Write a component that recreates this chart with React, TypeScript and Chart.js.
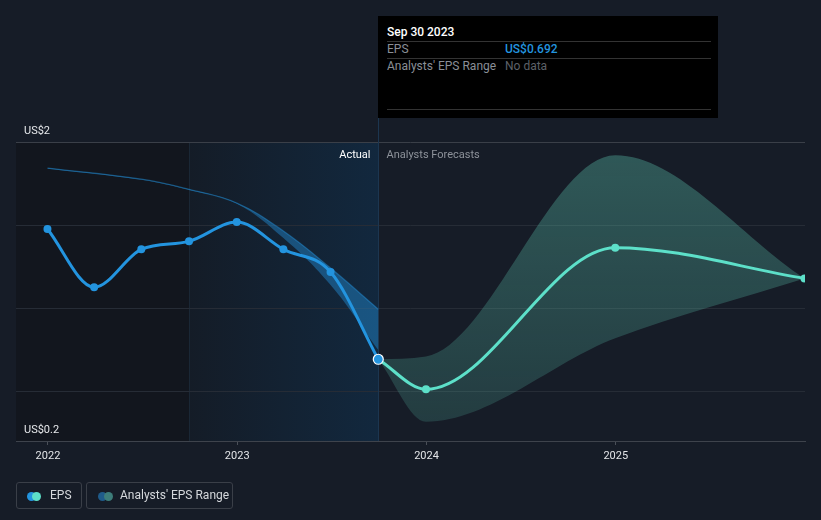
import React, { useEffect, useRef } from 'react';
import { Chart, registerables } from 'chart.js';
Chart.register(...registerables);

const FONT = 'Roboto, "Open Sans", "DejaVu Sans", sans-serif';

// ---- data ----
const actualDates = ['2021-12-31', '2022-03-31', '2022-06-30', '2022-09-30', '2022-12-31', '2023-03-31', '2023-06-30', '2023-09-30'];
const actualEps = [1.476, 1.125, 1.354, 1.402, 1.518, 1.354, 1.217, 0.692];

const pastRangeDates = ['2021-12-31', '2022-06-30', '2022-09-30', '2022-12-31', '2023-03-31', '2023-06-30', '2023-09-30'];
const pastRangeHigh = [1.843, 1.776, 1.715, 1.633, 1.464, 1.241, 0.993];
const pastRangeLow = [1.839, 1.772, 1.711, 1.629, 1.422, 1.139, 0.748];

const forecastDates = ['2023-09-30', '2023-12-31', '2024-12-31', '2025-12-31'];
const forecastEps = [0.692, 0.511, 1.364, 1.179];
const forecastHigh = [0.692, 0.708, 1.92, 1.179];
const forecastLow = [0.692, 0.316, 0.818, 1.179];

const xTickYears = [2022, 2023, 2024, 2025];
const yTickValues = [0.2, 0.5, 1, 1.5, 2];
const yTickLabels: Record<string, string> = { '2': 'US$2', '0.2': 'US$0.2' };

const shadeStart = '2022-09-30';
const shadeEnd = '2023-09-30';

const X_MIN = 2021.831;
const X_MAX = 2026.0;
const Y_MIN = 0.2;
const Y_MAX = 2;

function toYear(date: string): number {
  const d = Date.parse(date + 'T00:00:00Z');
  const y = new Date(d).getUTCFullYear();
  const s = Date.UTC(y, 0, 1);
  const e = Date.UTC(y + 1, 0, 1);
  return y + (d - s) / (e - s);
}

function pts(dates: string[], vals: number[]) {
  return dates.map((d, i) => ({ x: toYear(d), y: vals[i] }));
}

const TOOLTIP_BOTTOM = 118;

const bgPlugin = {
  id: 'bgPlugin',
  beforeDraw(chart: any) {
    const { ctx, chartArea: a, scales } = chart;
    const x = scales.x;
    const xs = x.getPixelForValue(toYear(shadeStart));
    const xe = x.getPixelForValue(toYear(shadeEnd));
    ctx.save();
    ctx.fillStyle = '#12161e';
    ctx.fillRect(a.left, a.top, xs - a.left, a.bottom - a.top);
    const g = ctx.createLinearGradient(xs, 0, xe, 0);
    g.addColorStop(0, '#141c27');
    g.addColorStop(1, '#12283e');
    ctx.fillStyle = g;
    ctx.fillRect(xs, a.top, xe - xs, a.bottom - a.top);
    ctx.fillStyle = '#1a2735';
    ctx.fillRect(Math.round(xs), a.top, 1, a.bottom - a.top);
    ctx.restore();
  },
  beforeDatasetsDraw(chart: any) {
    const { ctx, chartArea: a, scales } = chart;
    const xe = Math.round(scales.x.getPixelForValue(toYear(shadeEnd))) + 0.5;
    ctx.save();
    ctx.strokeStyle = '#1c3650';
    ctx.lineWidth = 1;
    ctx.beginPath();
    ctx.moveTo(xe, TOOLTIP_BOTTOM);
    ctx.lineTo(xe, a.bottom);
    ctx.stroke();
    ctx.font = `11px ${FONT}`;
    ctx.textBaseline = 'middle';
    ctx.textAlign = 'right';
    ctx.fillStyle = '#ffffff';
    ctx.fillText('Actual', xe - 8, a.top + 13);
    ctx.textAlign = 'left';
    ctx.fillStyle = '#8d929a';
    ctx.fillText('Analysts Forecasts', xe + 8, a.top + 13);
    ctx.restore();
  },
};

function ChartView() {
  const ref = useRef<HTMLCanvasElement | null>(null);
  useEffect(() => {
    if (!ref.current) return;
    const bandGradient = (ctx: any) => {
      const chart = ctx.chart;
      const a = chart.chartArea;
      if (!a) return 'rgba(90,190,170,0.3)';
      const g = chart.ctx.createLinearGradient(0, a.top, 0, a.bottom);
      g.addColorStop(0, 'rgba(90,190,170,0.38)');
      g.addColorStop(1, 'rgba(90,190,170,0.19)');
      return g;
    };
    const n = actualEps.length;
    const chart = new Chart(ref.current, {
      type: 'line',
      data: {
        datasets: [
          {
            label: 'EPS',
            data: pts(actualDates, actualEps),
            borderColor: '#2394df',
            backgroundColor: '#2394df',
            borderWidth: 3,
            cubicInterpolationMode: 'monotone',
            pointRadius: actualEps.map((_, i) => (i === n - 1 ? 5 : 4)),
            pointBackgroundColor: '#2394df',
            pointBorderColor: actualEps.map((_, i) => (i === n - 1 ? '#ffffff' : '#2394df')),
            pointBorderWidth: actualEps.map((_, i) => (i === n - 1 ? 1.2 : 0)),
            fill: false,
          },
          {
            label: 'Forecast',
            data: pts(forecastDates, forecastEps),
            borderColor: '#5de0c9',
            backgroundColor: '#5de0c9',
            borderWidth: 3,
            cubicInterpolationMode: 'monotone',
            pointRadius: forecastEps.map((_, i) => (i === 0 ? 0 : 4)),
            pointBorderWidth: 0,
            fill: false,
          },
          {
            label: 'ForecastHigh',
            data: pts(forecastDates, forecastHigh),
            borderWidth: 0,
            borderColor: 'rgba(0,0,0,0)',
            backgroundColor: bandGradient,
            cubicInterpolationMode: 'monotone',
            pointRadius: 0,
            fill: '+1',
          },
          {
            label: 'ForecastLow',
            data: pts(forecastDates, forecastLow),
            borderWidth: 0,
            borderColor: 'rgba(0,0,0,0)',
            cubicInterpolationMode: 'monotone',
            pointRadius: 0,
            fill: false,
          },
          {
            label: 'PastHigh',
            data: pts(pastRangeDates, pastRangeHigh),
            borderWidth: 1.2,
            borderColor: 'rgba(35,148,223,0.45)',
            backgroundColor: 'rgba(35,148,223,0.42)',
            tension: 0.4,
            pointRadius: 0,
            fill: '+1',
          },
          {
            label: 'PastLow',
            data: pts(pastRangeDates, pastRangeLow),
            borderWidth: 0,
            borderColor: 'rgba(0,0,0,0)',
            tension: 0.4,
            pointRadius: 0,
            fill: false,
          },
        ],
      },
      options: {
        animation: false,
        responsive: false,
        maintainAspectRatio: false,
        events: [],
        layout: { padding: { top: 142, left: 16, right: 16, bottom: 49 } },
        plugins: { legend: { display: false }, tooltip: { enabled: false } },
        scales: {
          x: {
            type: 'linear',
            min: X_MIN,
            max: X_MAX,
            afterFit: (s: any) => { s.height = 30; },
            afterBuildTicks: (s: any) => { s.ticks = xTickYears.map((v) => ({ value: v })); },
            ticks: {
              color: '#e3e5e8',
              font: { family: FONT, size: 11 },
              padding: 5,
              maxRotation: 0,
              callback: (v: any) => String(v),
            },
            grid: { drawOnChartArea: false, drawTicks: true, tickLength: 4, color: '#4a4f58' },
            border: { display: true, color: '#3e434c', width: 1 },
          },
          y: {
            type: 'linear',
            min: Y_MIN,
            max: Y_MAX,
            afterFit: (s: any) => { s.width = 0; },
            afterBuildTicks: (s: any) => { s.ticks = yTickValues.map((v) => ({ value: v })); },
            ticks: {
              mirror: true,
              padding: 8,
              labelOffset: -11,
              color: '#e6e8eb',
              font: { family: FONT, size: 11 },
              callback: (v: any) => yTickLabels[String(v)] || '',
            },
            grid: {
              drawTicks: false,
              color: (c: any) => {
                const v = c.tick && c.tick.value;
                if (v === 2) return '#3a3f48';
                if (v === 0.2) return 'rgba(0,0,0,0)';
                return '#262c36';
              },
            },
            border: { display: false },
          },
        },
      },
      plugins: [bgPlugin],
    } as any);
    return () => chart.destroy();
  }, []);
  return <canvas ref={ref} width={821} height={520} style={{ position: 'absolute', left: 0, top: 0, width: 821, height: 520 }} />;
}

function Dot({ left, color }: { left: number; color: string }) {
  return (
    <div style={{ position: 'absolute', left, top: 9, width: 9, height: 9, borderRadius: '50%', background: color }} />
  );
}

export default function App() {
  const rowText: React.CSSProperties = { position: 'absolute', fontSize: 12, lineHeight: '14px', whiteSpace: 'nowrap' };
  const sep = (top: number): React.CSSProperties => ({ position: 'absolute', left: 9, top, width: 324, height: 1, background: '#333333' });
  return (
    <div style={{ position: 'fixed', left: 0, top: 0, width: 821, height: 520, background: '#161c27', fontFamily: FONT, overflow: 'hidden' }}>
      <ChartView />
      <div style={{ position: 'absolute', left: 378, top: 16, width: 340, height: 102, background: '#000000' }}>
        <div style={{ ...rowText, left: 9, top: 9, color: '#ffffff', fontWeight: 500 }}>Sep 30 2023</div>
        <div style={sep(25)} />
        <div style={{ ...rowText, left: 9, top: 26, color: '#8a8f97' }}>EPS</div>
        <div style={{ ...rowText, left: 127, top: 26, color: '#2394df', fontWeight: 500 }}>US$0.692</div>
        <div style={sep(42)} />
        <div style={{ ...rowText, left: 9, top: 43, color: '#8a8f97' }}>Analysts' EPS Range</div>
        <div style={{ ...rowText, left: 127, top: 43, color: '#5d6168' }}>No data</div>
        <div style={sep(93)} />
      </div>
      <div style={{ position: 'absolute', left: 16, top: 482, width: 64, height: 25, border: '1px solid #3a3f48', borderRadius: 3 }}>
        <Dot left={10} color="#2394df" />
        <Dot left={15} color="#5de0c9" />
        <div style={{ ...rowText, left: 33, top: 5, color: '#d5d8dc' }}>EPS</div>
      </div>
      <div style={{ position: 'absolute', left: 86, top: 482, width: 145, height: 25, border: '1px solid #3a3f48', borderRadius: 3 }}>
        <Dot left={11} color="#1f5b8a" />
        <Dot left={17} color="#3d7d7a" />
        <div style={{ ...rowText, left: 33, top: 5, color: '#d5d8dc' }}>Analysts' EPS Range</div>
      </div>
    </div>
  );
}
